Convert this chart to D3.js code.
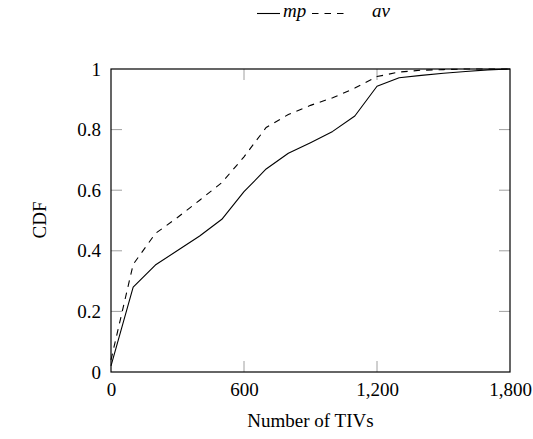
<!DOCTYPE html>
<html>
<head>
<meta charset="utf-8">
<script src="https://cdn.jsdelivr.net/npm/d3@7"></script>
<style>
  body { margin: 0; background: #fff; }
  svg { display: block; }
  text { font-family: "Liberation Serif", "DejaVu Serif", serif; fill: #000; }
</style>
</head>
<body>
<svg id="chart" width="533" height="439"></svg>
<script>
// ---- data ----
const tivs = [0, 100, 200, 300, 400, 500, 600, 700, 800, 900, 1000, 1100, 1200, 1300, 1400, 1500, 1600, 1700, 1800];
const mpCdf = [0.02, 0.28, 0.353, 0.401, 0.449, 0.504, 0.595, 0.67, 0.722, 0.757, 0.794, 0.845, 0.943, 0.971, 0.979, 0.986, 0.992, 0.997, 1.0];
const avCdf = [0.04, 0.355, 0.457, 0.51, 0.567, 0.625, 0.71, 0.807, 0.85, 0.88, 0.905, 0.937, 0.975, 0.99, 0.996, 0.998, 1.0, 1.0, 1.0];
const xTicks = [0, 600, 1200, 1800];
const yTicks = [0, 0.2, 0.4, 0.6, 0.8, 1];
const seriesNames = ["mp", "av"];
const xLabel = "Number of TIVs";
const yLabel = "CDF";

// ---- layout ----
const svg = d3.select("#chart");
const L = 111, R = 510, T = 69, B = 372;
const x = d3.scaleLinear().domain([0, 1800]).range([L, R]);
const y = d3.scaleLinear().domain([0, 1]).range([B, T]);
const fmtX = d3.format(",");
const fmtY = d => (d === 0 || d === 1) ? String(d) : d3.format(".1f")(d);
const FS = 19;

// ticks (inner, mirrored, gray)
const tickLen = 11;
const tickG = svg.append("g").attr("stroke", "#a0a0a0").attr("stroke-width", 1);
xTicks.forEach(t => {
  if (t === 0 || t === 1800) return;
  tickG.append("line").attr("x1", x(t)).attr("x2", x(t)).attr("y1", B).attr("y2", B - tickLen);
  tickG.append("line").attr("x1", x(t)).attr("x2", x(t)).attr("y1", T).attr("y2", T + tickLen);
});
yTicks.forEach(t => {
  if (t === 0 || t === 1) return;
  tickG.append("line").attr("x1", L).attr("x2", L + tickLen).attr("y1", y(t)).attr("y2", y(t));
  tickG.append("line").attr("x1", R).attr("x2", R - tickLen).attr("y1", y(t)).attr("y2", y(t));
});

// axes via d3 for labels only
const xAxis = d3.axisBottom(x).tickValues(xTicks).tickFormat(fmtX).tickSize(0).tickPadding(11);
const gx = svg.append("g").attr("transform", `translate(0,${B})`).call(xAxis);
gx.select(".domain").remove();
gx.selectAll("text").attr("font-size", FS).attr("font-family", "Liberation Serif, serif").attr("fill", "#000");

const yAxis = d3.axisLeft(y).tickValues(yTicks).tickFormat(fmtY).tickSize(0).tickPadding(10);
const gy = svg.append("g").attr("transform", `translate(${L},0)`).call(yAxis);
gy.select(".domain").remove();
gy.selectAll("text").attr("font-size", FS).attr("font-family", "Liberation Serif, serif").attr("fill", "#000");

// lines
const line = d3.line().x((d, i) => x(tivs[i])).y(d => y(d));
svg.append("path").datum(mpCdf).attr("d", line)
  .attr("fill", "none").attr("stroke", "#000").attr("stroke-width", 1.1).attr("stroke-linejoin", "round");
svg.append("path").datum(avCdf).attr("d", line)
  .attr("fill", "none").attr("stroke", "#000").attr("stroke-width", 1.1).attr("stroke-dasharray", "6.5,6");

// frame
svg.append("rect").attr("x", L).attr("y", T).attr("width", R - L).attr("height", B - T)
  .attr("fill", "none").attr("stroke", "#000").attr("stroke-width", 1.2);

// axis labels
svg.append("text").attr("x", (L + R) / 2).attr("y", 427).attr("text-anchor", "middle")
  .attr("font-size", FS).text(xLabel);
svg.append("text").attr("transform", `translate(46,220) rotate(-90)`).attr("text-anchor", "middle")
  .attr("font-size", FS).text(yLabel);

// legend
const lg = svg.append("g");
lg.append("line").attr("x1", 257).attr("x2", 280).attr("y1", 13.5).attr("y2", 13.5)
  .attr("stroke", "#000").attr("stroke-width", 1.1);
lg.append("text").attr("x", 283).attr("y", 17).attr("font-size", FS).attr("font-style", "italic").text(seriesNames[0]);
lg.append("line").attr("x1", 312).attr("x2", 344).attr("y1", 13.5).attr("y2", 13.5)
  .attr("stroke", "#000").attr("stroke-width", 1.1).attr("stroke-dasharray", "6.5,6");
lg.append("text").attr("x", 372).attr("y", 17).attr("font-size", FS).attr("font-style", "italic").text(seriesNames[1]);
</script>
</body>
</html>
